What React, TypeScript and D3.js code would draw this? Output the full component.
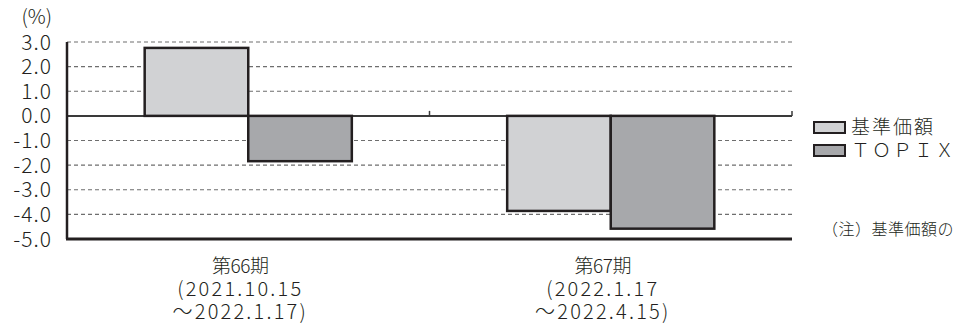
import React from "react";
import * as d3 from "d3";

const categories = ["第66期", "第67期"];
const categoryLines = [
  ["第66期", "(2021.10.15", "～2022.1.17)"],
  ["第67期", "(2022.1.17", "～2022.4.15)"],
];
const seriesNames = ["基準価額", "ＴＯＰＩＸ"];
const fundValues = [2.76, -3.86];
const topixValues = [-1.84, -4.58];
const yTicks = [3, 2, 1, 0, -1, -2, -3, -4, -5];
const yTickLabels = ["3.0", "2.0", "1.0", "0.0", "-1.0", "-2.0", "-3.0", "-4.0", "-5.0"];
const unitLabel = "(%)";
const noteText = "（注）基準価額の";

const W = 957;
const H = 327;
const left = 67;
const right = 792;
const top = 42;
const bottom = 239;
const colors = ["#d1d2d4", "#a7a8ab"];
const ink = "#231f20";
const FONT = "'Noto Sans CJK JP Light', 'Noto Sans CJK JP', 'Noto Sans', sans-serif";

export default function App() {
  const y = d3.scaleLinear().domain([-5, 3]).range([bottom, top]);
  const x0 = d3.scaleBand<string>().domain(categories).range([left, right]).padding(0);
  const x1 = d3
    .scaleBand<string>()
    .domain(seriesNames)
    .range([0, x0.bandwidth()])
    .paddingInner(0)
    .paddingOuter(0.75);
  const seriesValues = [fundValues, topixValues];

  return (
    <svg
      width={W}
      height={H}
      style={{ position: "absolute", left: 0, top: 0, display: "block", background: "#fff" }}
      fontFamily={FONT}
      fontWeight={300}
    >
      {yTicks
        .filter((t) => t !== 0 && t !== -5)
        .map((t) => (
          <line
            key={"g" + t}
            x1={left}
            x2={right}
            y1={y(t)}
            y2={y(t)}
            stroke="#6e6e6e"
            strokeWidth={1.1}
            strokeDasharray="4,3"
          />
        ))}
      <line x1={left} x2={right} y1={y(0)} y2={y(0)} stroke="#3a3a3a" strokeWidth={2} />
      {categories.map((c) => {
        const bx = (x0(c) as number) + x0.bandwidth();
        return <line key={"t" + c} x1={bx} x2={bx} y1={y(0) - 5} y2={y(0)} stroke="#3a3a3a" strokeWidth={1.5} />;
      })}
      {categories.map((c, ci) =>
        seriesNames.map((s, si) => {
          const v = seriesValues[si][ci];
          const bx = (x0(c) as number) + (x1(s) as number);
          const y0 = y(Math.max(0, v));
          const h = Math.abs(y(v) - y(0));
          return (
            <rect
              key={c + s}
              x={bx}
              y={y0}
              width={x1.bandwidth()}
              height={h}
              fill={colors[si]}
              stroke={ink}
              strokeWidth={2.5}
            />
          );
        })
      )}
      <line x1={left} x2={left} y1={top} y2={bottom} stroke={ink} strokeWidth={2.5} />
      <line x1={left - 1} x2={right} y1={bottom} y2={bottom} stroke={ink} strokeWidth={3} />
      {yTicks.map((t, i) => (
        <text
          key={"l" + t}
          x={52}
          y={y(t)}
          dy="0.36em"
          textAnchor="end"
          fontSize={21}
          letterSpacing={1}
          fill={ink}
        >
          {yTickLabels[i]}
        </text>
      ))}
      <text x={52} y={24} textAnchor="end" fontSize={20} fill={ink}>
        {unitLabel}
      </text>
      {categories.map((c, ci) => {
        const cx = (x0(c) as number) + x0.bandwidth() / 2 - 8;
        return (
          <g key={"c" + c}>
            {categoryLines[ci].map((ln, li) => (
              <text
                key={li}
                x={cx}
                y={273 + li * 23}
                textAnchor="middle"
                fontSize={li === 0 ? 19 : 20}
                letterSpacing={li === 0 ? -0.5 : 2.2}
                fill={ink}
              >
                {ln}
              </text>
            ))}
          </g>
        );
      })}
      {seriesNames.map((s, si) => (
        <g key={"lg" + s}>
          <rect x={814} y={122 + si * 23} width={31} height={11} fill={colors[si]} stroke={ink} strokeWidth={2} />
          <text x={851} y={134 + si * 23} fontSize={19} fill={ink} letterSpacing={2}>
            {s}
          </text>
        </g>
      ))}
      <text x={822} y={235} fontSize={16} letterSpacing={0.5} fill={ink}>
        {noteText}
      </text>
    </svg>
  );
}
